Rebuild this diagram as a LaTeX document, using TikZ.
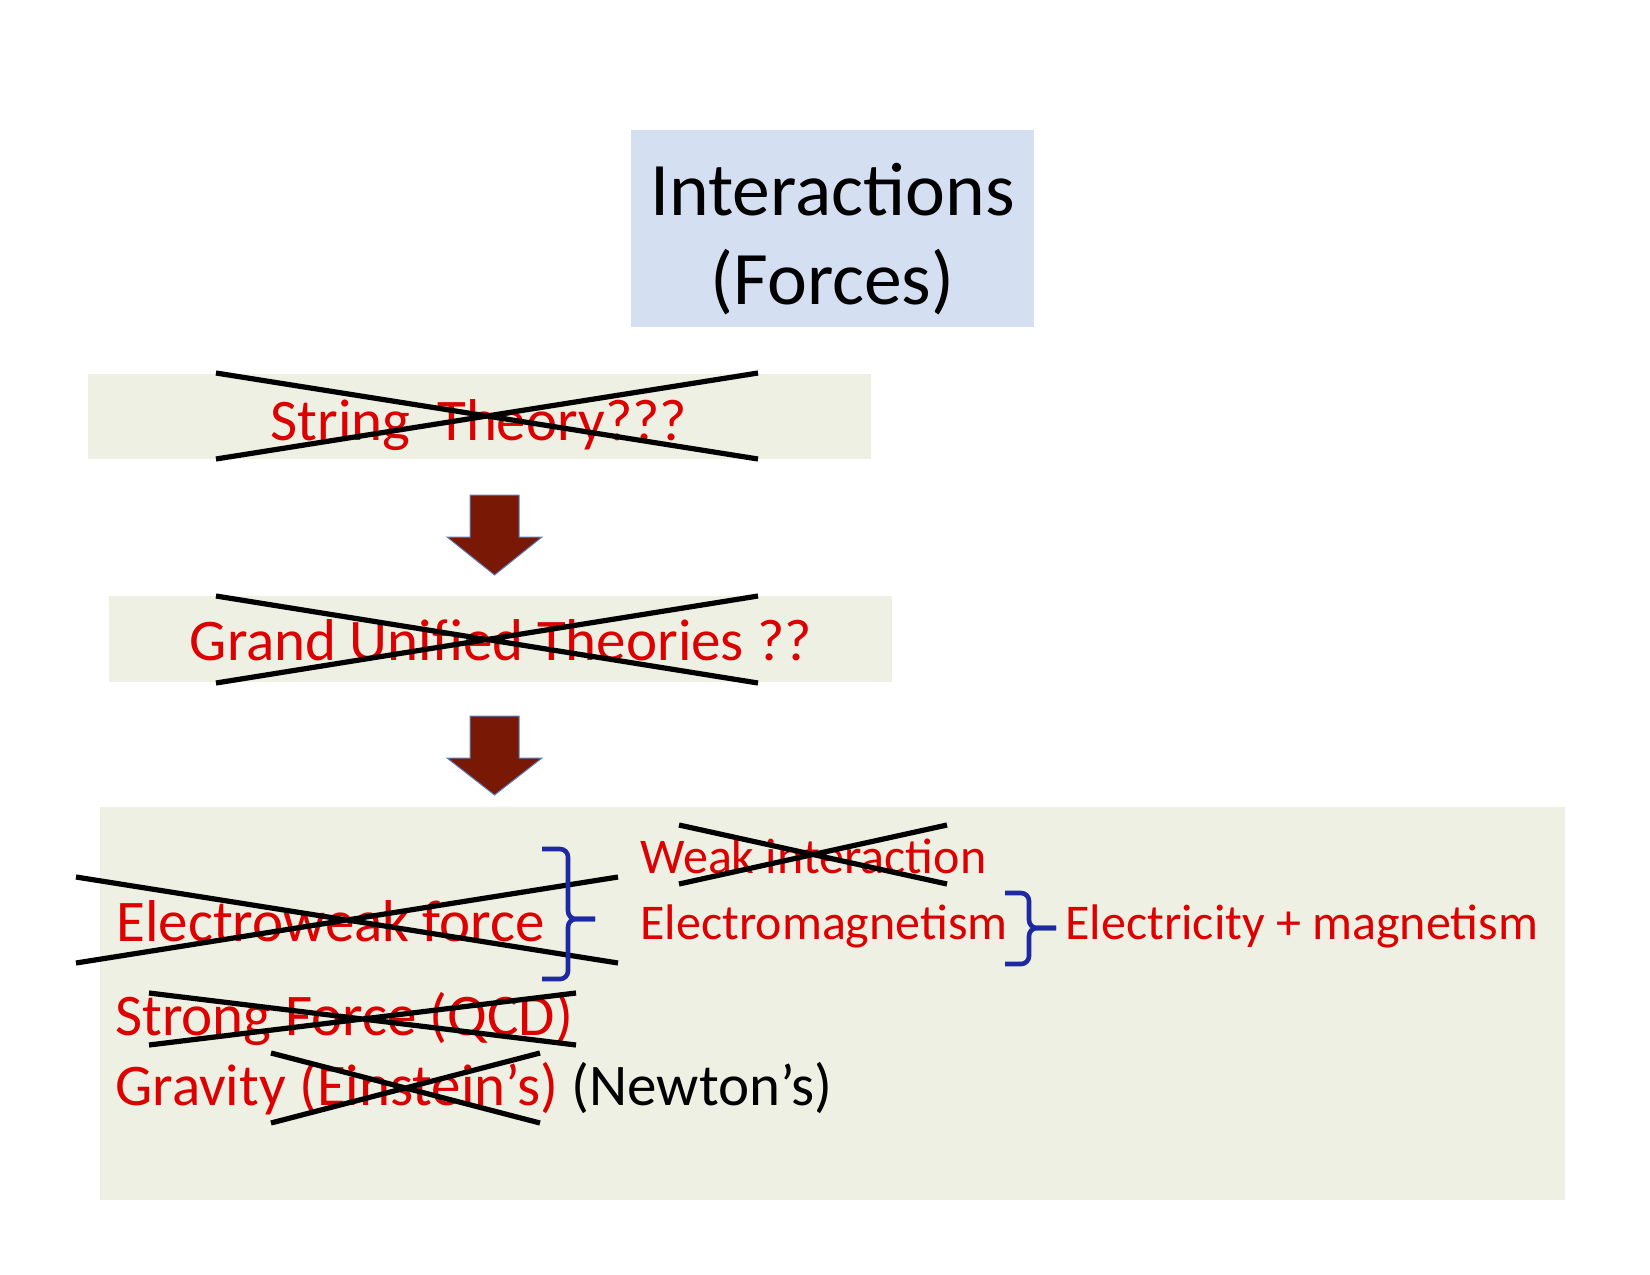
\documentclass[tikz,border=0pt]{standalone}
\usepackage{fontspec}
\setmainfont{Carlito}
\usepackage{xcolor}
\usetikzlibrary{positioning}

\definecolor{txtred}{RGB}{220,0,0}
\definecolor{boxgreen}{RGB}{238,240,227}
\definecolor{titleblue}{RGB}{212,223,241}
\definecolor{arrowred}{RGB}{122,24,6}
\definecolor{arrowedge}{RGB}{90,130,190}
\definecolor{braceblue}{RGB}{30,40,160}

\begin{document}
\begin{tikzpicture}[
  x=0.5pt, y=-0.5pt,
  titlebox/.style = {
    rectangle, fill=titleblue,
    minimum width=201.5pt, minimum height=98.5pt, inner sep=0pt
  },
  titletxt/.style = {align=center, inner sep=0pt, font=\fontsize{37.8}{44.5}\selectfont},
  levelbox/.style = {rectangle, fill=boxgreen, inner sep=0pt},
  bigtxt/.style = {
    text=txtred, inner sep=0pt, anchor=base west,
    font=\fontsize{29.5}{34}\selectfont
  },
  smalltxt/.style = {bigtxt, font=\fontsize{25}{29}\selectfont},
  xline/.style = {line width=2.6pt, black},
  brace/.style = {draw=braceblue, line width=2.3pt, rounded corners=4pt},
  downarr/.style = {fill=arrowred, draw=arrowedge, line width=0.5pt}
]
\useasboundingbox (0,0) rectangle (1650,1275);

% title
\node[titlebox] (title) at (832.5,228.5) {};
\node[titletxt] (titletxt) at (832.5,239) {Interactions\\(Forces)};

% the two upper levels
\node[levelbox, minimum width=391.5pt, minimum height=42.5pt] (string) at (479.5,416.5) {};
\node[bigtxt, anchor=base] (stringtxt) at (479,440) {String\ \ Theory???};
\draw[xline] (216,373) -- (758,459) (216,459) -- (758,373);

\draw[downarr] (470,495) -- ++(49,0) -- ++(0,42) -- ++(23,0) -- ++(-47.5,38)
  -- ++(-47.5,-38) -- ++(23,0) -- cycle;

\node[levelbox, minimum width=391.5pt, minimum height=43pt] (gut) at (500.5,639) {};
\node[bigtxt, anchor=base] (guttxt) at (501,660) {Grand Unified Theories ??};
\draw[xline] (216,596) -- (758,683) (216,683) -- (758,596);

\draw[downarr] (470,716) -- ++(49,0) -- ++(0,42) -- ++(23,0) -- ++(-47.5,37)
  -- ++(-47.5,-37) -- ++(23,0) -- cycle;

% what we have now
\node[levelbox, minimum width=732.5pt, minimum height=196.5pt] (sm) at (832.5,1003.5) {};

\node[bigtxt] (ew) at (116,941) {Electroweak force};
\draw[xline] (76,877) -- (618,963) (76,963) -- (618,877);
\draw[brace] (542,849) -| (568,919) -- (595,919);
\draw[brace] (595,919) -- (568,919) |- (542,979);

\node[smalltxt] (weak) at (640,873) {Weak interaction};
\draw[xline] (679,825) -- (947,884) (679,884) -- (947,825);
\node[smalltxt] (em) at (640,939) {Electromagnetism};
\draw[brace] (1005,893) -| (1029,928) -- (1056,928);
\draw[brace] (1056,928) -- (1029,928) |- (1005,964);
\node[smalltxt] (elmag) at (1065,939) {Electricity + magnetism};

\node[bigtxt] (strong) at (115,1035) {Strong Force (QCD)};
\draw[xline] (149,993) -- (576,1045) (149,1045) -- (576,993);

\node[bigtxt] (grav) at (115,1105) {Gravity (Einstein's)};
\node[bigtxt, text=black, anchor=west, right=6.5pt of grav] (newton) {(Newton's)};
\draw[xline] (271,1053) -- (540,1123) (271,1123) -- (540,1053);
\end{tikzpicture}
\end{document}
